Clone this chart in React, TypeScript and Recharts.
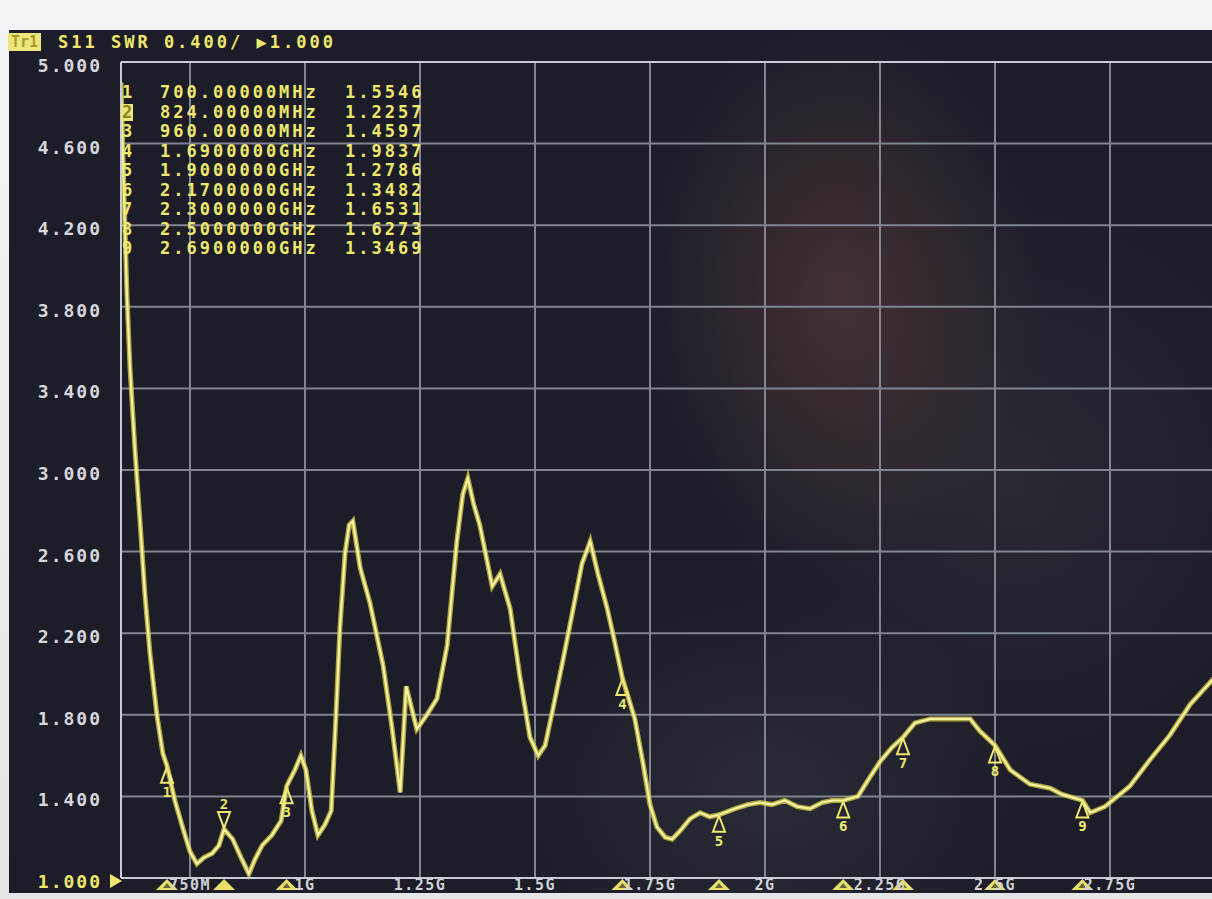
import React from 'react';
import { ComposedChart, Line, Scatter, XAxis, YAxis, CartesianGrid, ReferenceLine } from 'recharts';

// S11 SWR trace (GHz / SWR)
const traceFreqGHz = [
  0.6, 0.6065, 0.613, 0.6196, 0.63, 0.641, 0.652, 0.663, 0.678, 0.691,
  0.7, 0.717, 0.735, 0.75, 0.765, 0.78, 0.798, 0.813, 0.824, 0.843,
  0.861, 0.878, 0.891, 0.907, 0.928, 0.948, 0.96, 0.978, 0.991, 1.002,
  1.015, 1.028, 1.043, 1.057, 1.067, 1.076, 1.087, 1.096, 1.104, 1.12,
  1.141, 1.17, 1.189, 1.207, 1.22, 1.243, 1.265, 1.287, 1.309, 1.33,
  1.343, 1.354, 1.367, 1.38, 1.407, 1.424, 1.446, 1.467, 1.489, 1.507,
  1.522, 1.539, 1.561, 1.583, 1.602, 1.62, 1.637, 1.657, 1.672, 1.69,
  1.717, 1.735, 1.75, 1.765, 1.783, 1.798, 1.815, 1.837, 1.859, 1.88,
  1.9, 1.935, 1.963, 1.989, 2.015, 2.043, 2.07, 2.098, 2.124, 2.146,
  2.17, 2.202, 2.224, 2.25, 2.276, 2.3, 2.326, 2.359, 2.402, 2.446,
  2.467, 2.5, 2.533, 2.576, 2.62, 2.646, 2.69, 2.707, 2.739, 2.793,
  2.837, 2.88, 2.924, 2.972, 3.0,
];
const traceSwr = [
  4.9, 4.35, 3.85, 3.5, 3.11, 2.76, 2.39, 2.1, 1.8, 1.61,
  1.55, 1.38, 1.24, 1.13, 1.07, 1.1, 1.12, 1.16, 1.24, 1.19,
  1.1, 1.02, 1.09, 1.16, 1.21, 1.28, 1.45, 1.53, 1.6, 1.53,
  1.33, 1.21, 1.26, 1.33, 1.78, 2.23, 2.59, 2.73, 2.75, 2.52,
  2.35, 2.04, 1.74, 1.42, 1.94, 1.73, 1.8, 1.88, 2.14, 2.65,
  2.88, 2.96, 2.83, 2.73, 2.43, 2.49, 2.32, 1.99, 1.69, 1.6,
  1.65, 1.83, 2.07, 2.32, 2.54, 2.65, 2.49, 2.32, 2.17, 1.98,
  1.78, 1.56, 1.36, 1.25, 1.2, 1.19, 1.23, 1.29, 1.32, 1.3,
  1.31, 1.34, 1.36, 1.37, 1.36, 1.38, 1.35, 1.34, 1.37, 1.38,
  1.38, 1.4, 1.48, 1.57, 1.64, 1.69, 1.76, 1.78, 1.78, 1.78,
  1.72, 1.65, 1.53, 1.46, 1.44, 1.41, 1.38, 1.32, 1.35, 1.45,
  1.58, 1.7, 1.85, 1.97, 2.05,
];

const markerNum = [1, 2, 3, 4, 5, 6, 7, 8, 9];
const markerFreqGHz = [0.7, 0.824, 0.96, 1.69, 1.9, 2.17, 2.3, 2.5, 2.69];
const markerFreqText = [
  '700.00000MHz', '824.00000MHz', '960.00000MHz', '1.6900000GHz', '1.9000000GHz',
  '2.1700000GHz', '2.3000000GHz', '2.5000000GHz', '2.6900000GHz',
];
const markerSwrText = ['1.5546', '1.2257', '1.4597', '1.9837', '1.2786', '1.3482', '1.6531', '1.6273', '1.3469'];
const activeMarker = 2;

const xTicks = [0.75, 1, 1.25, 1.5, 1.75, 2, 2.25, 2.5, 2.75];
const xTickLabels = ['750M', '1G', '1.25G', '1.5G', '1.75G', '2G', '2.25G', '2.5G', '2.75G'];
const yTicks = [1, 1.4, 1.8, 2.2, 2.6, 3, 3.4, 3.8, 4.2, 4.6, 5];

const YELLOW = '#efe86c';
const FONT = '"DejaVu Sans Mono", monospace';

const trace = traceFreqGHz.map((f, i) => ({ f, v: traceSwr[i] }));
const markerPts = markerFreqGHz.map((f, i) => ({
  f,
  v: traceSwr[traceFreqGHz.indexOf(f)],
  n: markerNum[i],
  active: markerNum[i] === activeMarker,
}));
const axisMarkerPts = markerPts.map((m) => ({ ...m, v: 1 }));

const YTick = (props: any) => {
  const { x, y, payload } = props;
  const isRef = payload.value === 1;
  return (
    <g>
      <text
        x={x - 19}
        y={y + 10}
        textAnchor="end"
        fill={isRef ? YELLOW : '#d6d7dc'}
        fontFamily={FONT}
        fontWeight="bold"
        fontSize={18}
        letterSpacing={2}
      >
        {payload.value.toFixed(3)}
      </text>
      {isRef && <polygon points={`${x - 11},${y - 4} ${x - 11},${y + 10} ${x + 1},${y + 3}`} fill={YELLOW} />}
    </g>
  );
};

const XTick = (props: any) => {
  const { x, y, payload } = props;
  const label = xTickLabels[xTicks.indexOf(payload.value)];
  return (
    <text
      x={x}
      y={y + 12}
      textAnchor="middle"
      fill="#d0d2d7"
      fontFamily={FONT}
      fontWeight="bold"
      fontSize={15}
      letterSpacing={1.5}
    >
      {label}
    </text>
  );
};

const TraceMarker = (props: any) => {
  const { cx, cy, payload } = props;
  if (payload.active) {
    return (
      <g>
        <text x={cx} y={cy - 20} textAnchor="middle" fill={YELLOW} fontFamily={FONT} fontWeight="bold" fontSize={14}>
          {payload.n}
        </text>
        <polygon
          points={`${cx - 6},${cy - 17} ${cx + 6},${cy - 17} ${cx},${cy - 1}`}
          fill="none"
          stroke={YELLOW}
          strokeWidth={2}
        />
      </g>
    );
  }
  return (
    <g>
      <polygon
        points={`${cx},${cy + 1} ${cx - 6},${cy + 17} ${cx + 6},${cy + 17}`}
        fill="none"
        stroke={YELLOW}
        strokeWidth={2}
      />
      <text x={cx} y={cy + 31} textAnchor="middle" fill={YELLOW} fontFamily={FONT} fontWeight="bold" fontSize={14}>
        {payload.n}
      </text>
    </g>
  );
};

const AxisMarker = (props: any) => {
  const { cx, cy, payload } = props;
  return (
    <g>
      <polygon points={`${cx},${cy + 1} ${cx - 11},${cy + 12} ${cx + 11},${cy + 12}`} fill="#e6df6a" />
      {!payload.active && (
        <polygon points={`${cx},${cy + 5} ${cx - 4},${cy + 10} ${cx + 4},${cy + 10}`} fill="#6b6638" />
      )}
    </g>
  );
};

export default function App() {
  return (
    <div
      style={{
        position: 'relative',
        width: 1212,
        height: 899,
        overflow: 'hidden',
        background: 'linear-gradient(#f3f4f5, #e4e5e6)',
      }}
    >
      <style>{'body{margin:0;overflow:hidden}'}</style>
      <div
        style={{
          position: 'absolute',
          left: 9,
          top: 30,
          width: 1210,
          height: 863,
          backgroundColor: '#1c1d28',
          backgroundImage:
            'radial-gradient(ellipse 200px 280px at 830px 260px, rgba(110,72,66,0.45), rgba(110,72,66,0) 100%),' +
            'radial-gradient(ellipse 260px 200px at 760px 760px, rgba(120,130,140,0.14), rgba(120,130,140,0) 100%),' +
            'radial-gradient(ellipse 300px 300px at 1000px 450px, rgba(70,60,66,0.35), rgba(70,60,66,0) 100%)',
        }}
      />
      {/* channel header */}
      <div
        style={{
          position: 'absolute',
          left: 8,
          top: 33,
          width: 33,
          height: 18,
          background: '#ebe77c',
          color: '#a99b2a',
          fontFamily: FONT,
          fontWeight: 'bold',
          fontSize: 15,
          lineHeight: '18px',
          textAlign: 'center',
        }}
      >
        Tr1
      </div>
      <div
        style={{
          position: 'absolute',
          left: 58,
          top: 32,
          color: YELLOW,
          fontFamily: FONT,
          fontWeight: 'bold',
          fontSize: 17,
          lineHeight: '20px',
          letterSpacing: 3,
          whiteSpace: 'pre',
        }}
      >
        S11 SWR 0.400/ ▶1.000
      </div>

      <ComposedChart
        width={1230}
        height={899}
        margin={{ top: 62, right: 5, bottom: 0, left: 8 }}
        style={{ position: 'absolute', left: 0, top: 0 }}
      >
        <CartesianGrid stroke="#80858f" strokeWidth={2} />
        <XAxis
          dataKey="f"
          type="number"
          domain={[0.6, 3.0]}
          ticks={xTicks}
          height={21}
          tickSize={0}
          tickMargin={0}
          tickLine={false}
          axisLine={{ stroke: '#c9ccd4', strokeWidth: 2 }}
          tick={<XTick />}
          allowDataOverflow
        />
        <YAxis
          dataKey="v"
          type="number"
          domain={[1, 5]}
          ticks={yTicks}
          width={113}
          tickSize={0}
          tickMargin={0}
          tickLine={false}
          axisLine={{ stroke: '#c9ccd4', strokeWidth: 2 }}
          tick={<YTick />}
          interval={0}
        />
        <ReferenceLine y={5} stroke="#c9ccd4" strokeWidth={2} />
        <Line
          data={trace}
          dataKey="v"
          type="linear"
          stroke="#d2c83e"
          strokeWidth={5}
          strokeOpacity={0.8}
          dot={false}
          activeDot={false}
          isAnimationActive={false}
        />
        <Line
          data={trace}
          dataKey="v"
          type="linear"
          stroke="#f6f2a8"
          strokeWidth={2.2}
          dot={false}
          activeDot={false}
          isAnimationActive={false}
        />
        <Scatter data={markerPts} dataKey="v" shape={<TraceMarker />} isAnimationActive={false} />
        <Scatter data={axisMarkerPts} dataKey="v" shape={<AxisMarker />} isAnimationActive={false} />
      </ComposedChart>

      {/* marker table */}
      <div
        style={{
          position: 'absolute',
          left: 121,
          top: 83,
          color: YELLOW,
          fontFamily: FONT,
          fontWeight: 'bold',
          fontSize: 17,
          letterSpacing: 3,
          whiteSpace: 'pre',
        }}
      >
        {markerNum.map((n, i) => (
          <div key={n} style={{ position: 'relative', height: 19.5, lineHeight: '19.5px' }}>
            <span
              style={
                n === activeMarker
                  ? { position: 'absolute', left: 0, top: 1, width: 12, height: 17, lineHeight: '17px', background: '#ebe77c', color: '#8f8425', letterSpacing: 0, textAlign: 'center' }
                  : { position: 'absolute', left: 1, letterSpacing: 0 }
              }
            >
              {n}
            </span>
            <span style={{ position: 'absolute', left: 39 }}>{markerFreqText[i]}</span>
            <span style={{ position: 'absolute', left: 224 }}>{markerSwrText[i]}</span>
          </div>
        ))}
      </div>
    </div>
  );
}
